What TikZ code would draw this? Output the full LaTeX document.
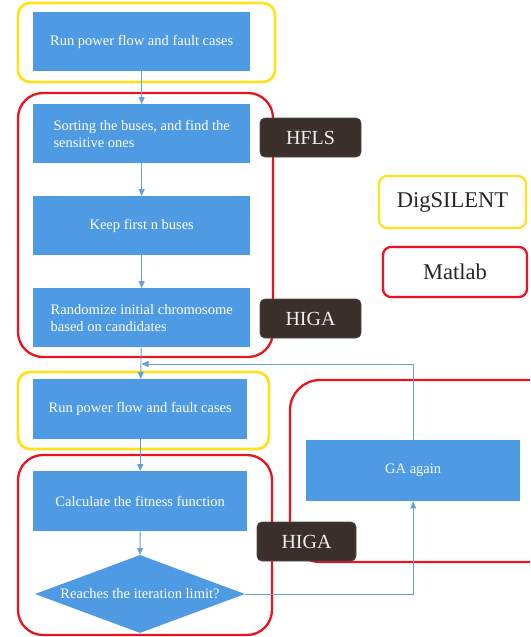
\documentclass[tikz,border=0pt]{standalone}
\usepackage{fontspec}
\setmainfont{Liberation Serif}
\usetikzlibrary{shapes.geometric,arrows.meta}
\definecolor{boxblue}{RGB}{78,155,228}
\definecolor{lineblue}{RGB}{100,160,220}
\definecolor{frred}{RGB}{232,20,30}
\definecolor{fryellow}{RGB}{255,226,30}
\definecolor{tagbrown}{RGB}{58,47,42}
\tikzset{
  stepbox/.style={fill=boxblue, text=white, font=\fontsize{14.5}{17}\selectfont,
    minimum width=217pt, minimum height=59pt, inner sep=0pt, anchor=north west},
  decbox/.style={diamond, fill=boxblue, text=white, font=\fontsize{14.5}{17}\selectfont,
    minimum width=210pt, minimum height=78pt, inner sep=0pt, aspect=2.7},
  redframe/.style={draw=frred, line width=2.3pt, rounded corners=25pt},
  yelframe/.style={draw=fryellow, line width=2.8pt, rounded corners=12pt},
  tagbox/.style={fill=tagbrown, draw=black!70, line width=0.8pt, rounded corners=5pt,
    text=white!94!black, font=\fontsize{20}{24}\selectfont, inner sep=0pt},
  legbox/.style={fill=white, rounded corners=8pt, line width=2.3pt, inner sep=0pt,
    font=\fontsize{22.5}{26}\selectfont, text=black!85},
  flow/.style={draw=lineblue, line width=0.9pt, -{Triangle[length=7pt,width=6pt]}},
}
\begin{document}
\begin{tikzpicture}[x=1pt,y=-1pt]
\useasboundingbox (0,0) rectangle (530,637);
\clip (0,0) rectangle (530,637);
% frames
\draw[yelframe] (18,3) rectangle (275,82);
\draw[redframe] (18,93) rectangle (273,357);
\draw[yelframe] (18,372) rectangle (269,449);
\draw[redframe] (18,455) rectangle (272,635);
\draw[redframe, rounded corners=30pt] (290,380) rectangle (560,562);
% legend
\node[legbox, draw=fryellow, minimum width=147pt, minimum height=52pt] (lgd) at (452.5,202) {DigSILENT};
\node[legbox, draw=frred, minimum width=144pt, minimum height=50pt] (lgm) at (455,272) {Matlab};
% steps
\node[stepbox] (b1) at (33,12) {Run power flow and fault cases};
\node[stepbox, align=left] (b2) at (33,104) {Sorting the buses, and find the\\sensitive ones};
\node[stepbox] (b3) at (33,196) {Keep first n buses};
\node[stepbox, align=left] (b4) at (33,288) {Randomize initial chromosome\\based on candidates};
\node[stepbox, minimum width=214pt, minimum height=60pt] (b5) at (33,379) {Run power flow and fault cases};
\node[stepbox, minimum width=214pt, minimum height=60pt] (b6) at (33,471) {Calculate the fitness function};
\node[decbox] (d) at (140,594) {Reaches the iteration limit?};
\node[stepbox, minimum width=214pt, minimum height=61pt] (ga) at (306,440) {GA again};
\coordinate (fb) at (141.5,364);
% connectors
\draw[flow] (b1) -- (b2);
\draw[flow] (b2) -- (b3);
\draw[flow] (b3) -- (b4);
\draw[flow] (b4) -- (b5);
\draw[flow] (b5) -- (b6);
\draw[flow] (b6) -- (d);
\draw[flow] (d.east) -| (ga.south);
\draw[flow] (ga.north) |- (fb);
% tags
\node[tagbox, minimum width=101pt, minimum height=39pt] (hfls) at (310.5,137.5) {HFLS};
\node[tagbox, minimum width=101pt, minimum height=39pt] (higa1) at (310.5,318.5) {HIGA};
\node[tagbox, minimum width=99pt, minimum height=39pt] (higa2) at (306.5,541.5) {HIGA};
\end{tikzpicture}
\end{document}
